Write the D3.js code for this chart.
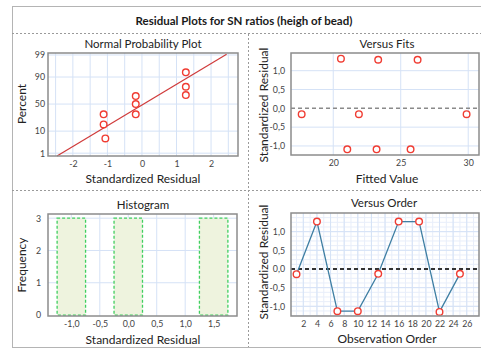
<!DOCTYPE html>
<html>
<head>
<meta charset="utf-8">
<script src="https://cdn.jsdelivr.net/npm/d3@7.9.0/dist/d3.min.js"></script>
<style>
  body { margin: 0; background: #fff; }
  svg { display: block; font-family: "Lato", "Noto Sans", sans-serif; }
</style>
</head>
<body>
<svg id="chart" width="481" height="349"></svg>
<script>
// ---------- data ----------
const chartTitle = "Residual Plots for SN ratios (heigh of bead)";

// normal probability plot
const npResid = [-1.06, -1.11, -1.11, -0.18, -0.18, -0.18, 1.27, 1.27, 1.27];
const npPercent = [5.2, 16.8, 31.3, 31.3, 50, 64.8, 66.5, 79.4, 93.4];
const npLineResid = [-2.46, 2.45];
const npLinePercent = [0.69, 99.1];
const npPctTicks = [1, 10, 50, 90, 99];
const npResidTicks = [-2, -1, 0, 1, 2];

// versus fits
const fitted = [17.66, 20.57, 21.04, 21.90, 23.21, 23.33, 25.73, 26.25, 29.88];
const fitResid = [-0.155, 1.32, -1.09, -0.155, -1.09, 1.29, -1.09, 1.29, -0.155];
const fitTicks = [20, 25, 30];
const residTicks = [-1, -0.5, 0, 0.5, 1];

// histogram
const binLow = [-1.25, -0.25, 1.25];
const binHigh = [-0.75, 0.25, 1.75];
const binFreq = [3, 3, 3];
const histTicks = [-1, -0.5, 0, 0.5, 1, 1.5];
const freqTicks = [0, 1, 2, 3];

// versus order
const obsOrder = [1, 4, 7, 10, 13, 16, 19, 22, 25];
const orderResid = [-0.14, 1.27, -1.13, -1.13, -0.13, 1.27, 1.27, -1.15, -0.13];
const orderTicks = [2, 4, 6, 8, 10, 12, 14, 16, 18, 20, 22, 24, 26];

// ---------- helpers ----------
const comma1 = v => v.toFixed(1).replace(".", ",");
const intFmt = v => String(v);

// inverse normal cdf (Acklam)
function probit(p) {
  const a = [-39.6968302866538, 220.946098424521, -275.928510446969, 138.357751867269, -30.6647980661472, 2.50662827745924];
  const b = [-54.4760987982241, 161.585836858041, -155.698979859887, 66.8013118877197, -13.2806815528857];
  const c = [-0.00778489400243029, -0.322396458041136, -2.40075827716184, -2.54973253934373, 4.37466414146497, 2.93816398269878];
  const d = [0.00778469570904146, 0.32246712907004, 2.445134137143, 3.75440866190742];
  const pl = 0.02425;
  let q, r;
  if (p < pl) {
    q = Math.sqrt(-2 * Math.log(p));
    return (((((c[0]*q+c[1])*q+c[2])*q+c[3])*q+c[4])*q+c[5]) / ((((d[0]*q+d[1])*q+d[2])*q+d[3])*q+1);
  } else if (p <= 1 - pl) {
    q = p - 0.5; r = q * q;
    return (((((a[0]*r+a[1])*r+a[2])*r+a[3])*r+a[4])*r+a[5])*q / (((((b[0]*r+b[1])*r+b[2])*r+b[3])*r+b[4])*r+1);
  }
  q = Math.sqrt(-2 * Math.log(1 - p));
  return -(((((c[0]*q+c[1])*q+c[2])*q+c[3])*q+c[4])*q+c[5]) / ((((d[0]*q+d[1])*q+d[2])*q+d[3])*q+1);
}

const svg = d3.select("#chart");
const gridColor = "#d5e2f6";
const frameColor = "#8c8c8c";
const red = "#f03c32";

// outer frame + title + separators
svg.append("rect").attr("x", 12.5).attr("y", 6.5).attr("width", 480).attr("height", 341)
  .attr("fill", "none").attr("stroke", "#b4b4b4");
svg.append("text").attr("x", 244).attr("y", 20).attr("text-anchor", "middle")
  .attr("dominant-baseline", "central").attr("font-size", 11.5).attr("font-weight", "bold")
  .attr("fill", "#1a1a1a").text(chartTitle);
const sep = svg.append("g").attr("stroke", "#9a9a9a").attr("stroke-dasharray", "2,2").attr("fill", "none");
sep.append("line").attr("x1", 12).attr("x2", 481).attr("y1", 33.5).attr("y2", 33.5);
sep.append("line").attr("x1", 12).attr("x2", 481).attr("y1", 190.5).attr("y2", 190.5);
sep.append("line").attr("x1", 248.5).attr("x2", 248.5).attr("y1", 34).attr("y2", 347);

// generic panel: frame, grid, axes, labels
function panel(o) {
  const g = svg.append("g");
  const x = o.x, y = o.y;
  const [x0, x1] = x.range(), [y0, y1] = y.range();
  const grid = g.append("g").attr("stroke", gridColor).attr("stroke-width", 1);
  (o.minorX || []).forEach(v => grid.append("line").attr("stroke", "#e8eefa")
    .attr("x1", x(v)).attr("x2", x(v)).attr("y1", y1).attr("y2", y0));
  (o.minorY || []).forEach(v => grid.append("line").attr("stroke", "#e8eefa")
    .attr("y1", y(v)).attr("y2", y(v)).attr("x1", x0).attr("x2", x1));
  (o.gridX || []).forEach(v => grid.append("line")
    .attr("x1", x(v)).attr("x2", x(v)).attr("y1", y1).attr("y2", y0));
  (o.gridY || []).forEach(v => grid.append("line")
    .attr("y1", y(v)).attr("y2", y(v)).attr("x1", x0).attr("x2", x1));

  const ax = g.append("g").attr("transform", `translate(0,${y0})`)
    .call(d3.axisBottom(x).tickValues(o.xTicks).tickFormat(o.xFmt).tickSize(0).tickPadding(5));
  const ay = g.append("g").attr("transform", `translate(${x0},0)`)
    .call(d3.axisLeft(y).tickValues(o.yTicks).tickFormat(o.yFmt).tickSize(0).tickPadding(o.yPad || 5));
  [ax, ay].forEach(a => {
    a.select(".domain").remove();
    a.selectAll("text").attr("font-family", "Lato, 'Noto Sans', sans-serif")
      .attr("font-size", 8.8).attr("fill", "#444");
  });

  g.append("text").attr("x", o.titleX).attr("y", o.titleY).attr("text-anchor", "middle")
    .attr("dominant-baseline", "central").attr("font-size", 11.5).attr("fill", "#222").text(o.title);
  g.append("text").attr("x", o.xLabelX).attr("y", o.xLabelY).attr("text-anchor", "middle")
    .attr("dominant-baseline", "central").attr("font-size", 12).attr("fill", "#222").text(o.xLabel);
  g.append("text").attr("transform", `translate(${o.yLabelX},${o.yLabelY}) rotate(-90)`)
    .attr("text-anchor", "middle").attr("dominant-baseline", "central")
    .attr("font-size", 12).attr("fill", "#222").text(o.yLabel);

  const plot = g.append("g");
  g.append("rect").attr("x", x0).attr("y", y1).attr("width", x1 - x0).attr("height", y0 - y1)
    .attr("fill", "none").attr("stroke", frameColor).attr("stroke-width", 1.5);
  return plot;
}

function dots(g, xs, ys, x, y) {
  g.selectAll("circle.pt").data(xs).enter().append("circle").attr("class", "pt")
    .attr("cx", d => x(d)).attr("cy", (d, i) => y(ys[i])).attr("r", 3.3)
    .attr("fill", "#fff").attr("stroke", red).attr("stroke-width", 1.4);
}

// ---------- Normal Probability Plot ----------
{
  const x = d3.scaleLinear().domain([-2.72, 2.78]).range([48, 238]);
  const z = d3.scaleLinear().domain([-2.46, 2.42]).range([156, 53]);
  const y = p => z(probit(p / 100));
  const g = panel({
    x, y: z,
    gridX: d3.range(-2.5, 2.51, 0.5), gridY: npPctTicks.map(p => probit(p / 100)),
    xTicks: npResidTicks, xFmt: intFmt,
    yTicks: npPctTicks.map(p => probit(p / 100)),
    yFmt: (v, i) => String(npPctTicks[i]),
    yPad: 3,
    title: "Normal Probability Plot", titleX: 143, titleY: 43,
    xLabel: "Standardized Residual", xLabelX: 143, xLabelY: 178,
    yLabel: "Percent", yLabelX: 21, yLabelY: 104
  });
  g.append("path")
    .attr("d", d3.line().x(d => x(d)).y((d, i) => y(npLinePercent[i]))(npLineResid))
    .attr("stroke", "#d03a3a").attr("stroke-width", 1.2).attr("fill", "none");
  dots(g, npResid, npPercent, x, y);
}

// ---------- Versus Fits ----------
{
  const x = d3.scaleLinear().domain([16.87, 30.8]).range([291, 479]);
  const y = d3.scaleLinear().domain([-1.24, 1.47]).range([155, 53]);
  const g = panel({
    x, y,
    gridX: fitTicks, gridY: [-1, -0.5, 0.5, 1],
    xTicks: fitTicks, xFmt: intFmt,
    yTicks: residTicks, yFmt: comma1, yPad: 6,
    title: "Versus Fits", titleX: 387, titleY: 43,
    xLabel: "Fitted Value", xLabelX: 387, xLabelY: 178,
    yLabel: "Standardized Residual", yLabelX: 263, yLabelY: 105
  });
  g.append("line").attr("x1", 291).attr("x2", 479).attr("y1", y(0)).attr("y2", y(0))
    .attr("stroke", "#8a8a8a").attr("stroke-width", 1.5).attr("stroke-dasharray", "4,3");
  dots(g, fitted, fitResid, x, y);
}

// ---------- Histogram ----------
{
  const x = d3.scaleLinear().domain([-1.41, 1.91]).range([48, 237]);
  const y = d3.scaleLinear().domain([-0.03, 3.13]).range([316, 214]);
  const g = panel({
    x, y,
    gridX: d3.range(-1, 1.51, 0.5), gridY: [1, 2, 3],
    xTicks: histTicks, xFmt: comma1,
    yTicks: freqTicks, yFmt: intFmt, yPad: 7,
    title: "Histogram", titleX: 143, titleY: 204,
    xLabel: "Standardized Residual", xLabelX: 143, xLabelY: 339,
    yLabel: "Frequency", yLabelX: 21, yLabelY: 265
  });
  g.selectAll("rect.bar").data(binFreq).enter().append("rect").attr("class", "bar")
    .attr("x", (d, i) => x(binLow[i])).attr("width", (d, i) => x(binHigh[i]) - x(binLow[i]))
    .attr("y", d => y(d)).attr("height", d => y(0) - y(d))
    .attr("fill", "#eef3de").attr("stroke", "#3fcf5f").attr("stroke-width", 1.3)
    .attr("stroke-dasharray", "3,2");
}

// ---------- Versus Order ----------
{
  const x = d3.scaleLinear().domain([0.19, 27.8]).range([291, 479]);
  const y = d3.scaleLinear().domain([-1.26, 1.5]).range([316, 213]);
  const g = panel({
    x, y,
    minorX: d3.range(1, 28, 1), minorY: d3.range(-1.25, 1.5, 0.125),
    gridX: orderTicks, gridY: [-1, -0.5, 0.5, 1],
    xTicks: orderTicks, xFmt: intFmt,
    yTicks: residTicks, yFmt: comma1, yPad: 6,
    title: "Versus Order", titleX: 384, titleY: 202,
    xLabel: "Observation Order", xLabelX: 387, xLabelY: 338,
    yLabel: "Standardized Residual", yLabelX: 263, yLabelY: 262
  });
  g.append("line").attr("x1", 291).attr("x2", 479).attr("y1", y(0)).attr("y2", y(0))
    .attr("stroke", "#333").attr("stroke-width", 2).attr("stroke-dasharray", "4,3");
  g.append("path")
    .attr("d", d3.line().x(d => x(d)).y((d, i) => y(orderResid[i]))(obsOrder))
    .attr("stroke", "#3f7fa3").attr("stroke-width", 1.3).attr("fill", "none");
  dots(g, obsOrder, orderResid, x, y);
}
</script>
</body>
</html>
